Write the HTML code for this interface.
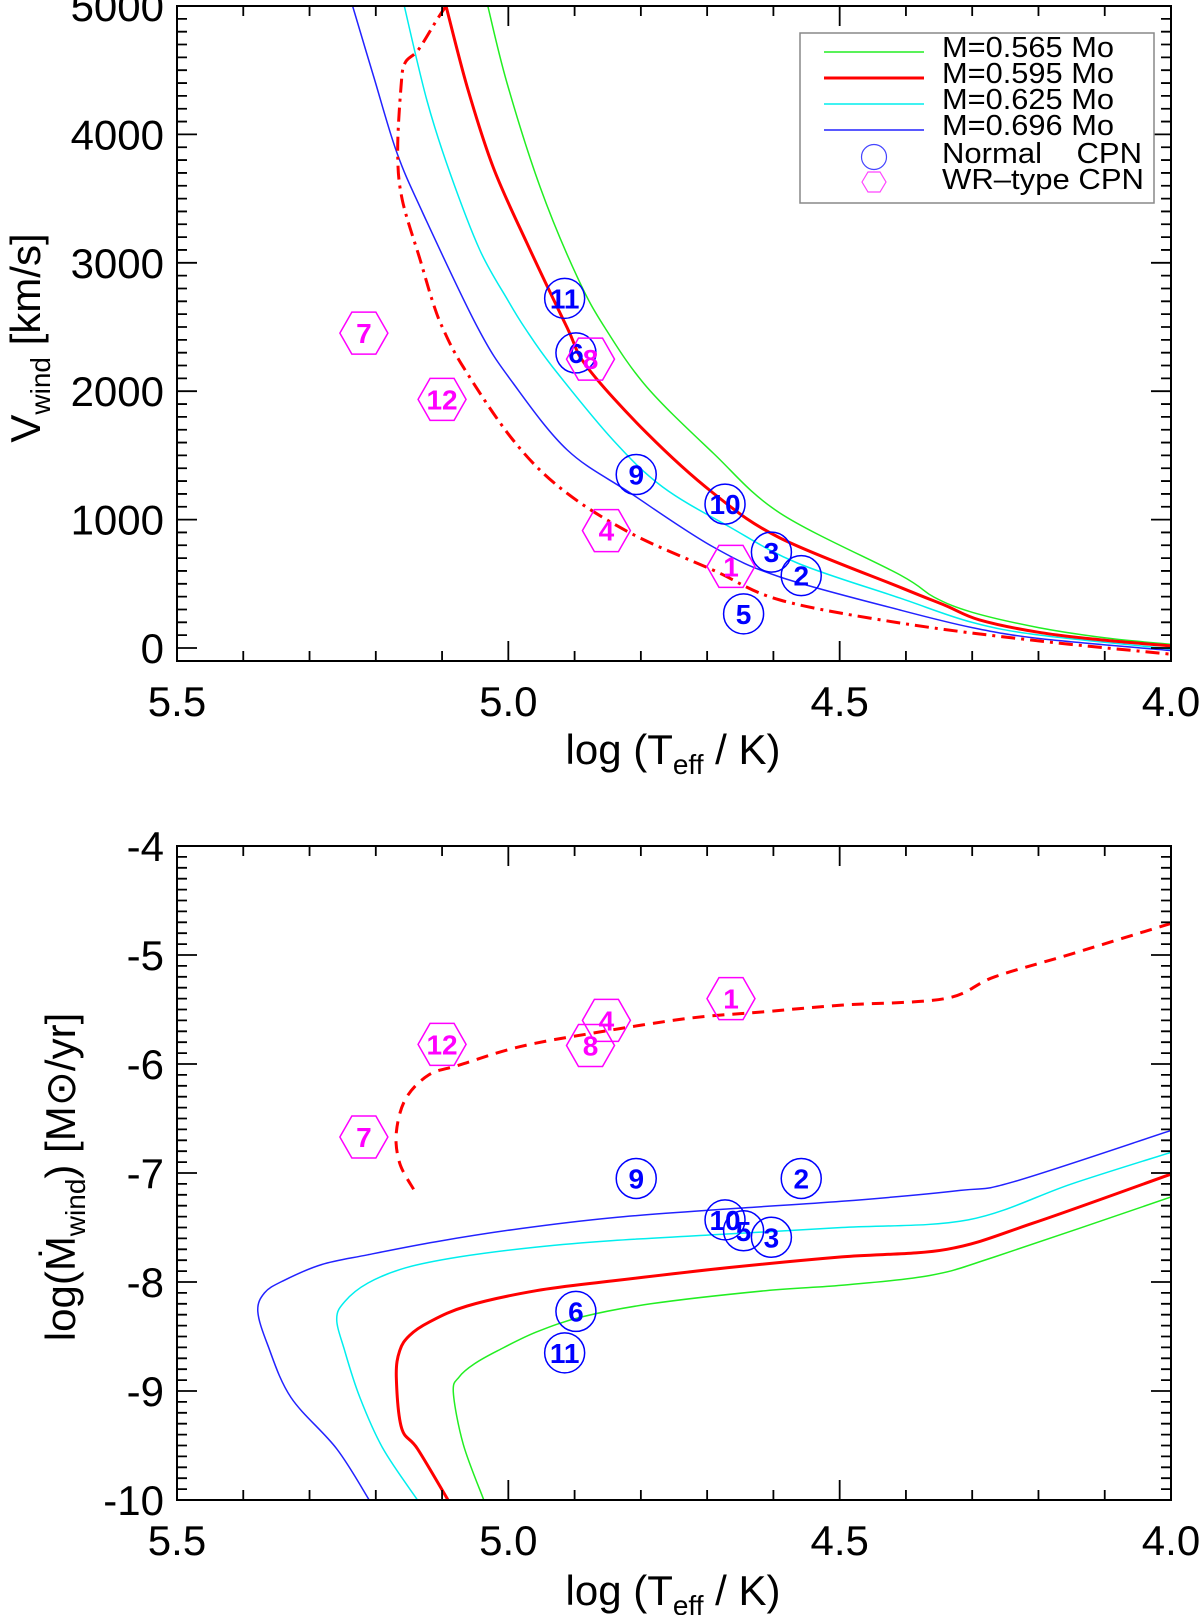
<!DOCTYPE html>
<html><head><meta charset="utf-8"><style>
html,body{margin:0;padding:0;background:#fff;}
svg{display:block;font-family:"Liberation Sans",Arial,sans-serif;}
</style></head><body>
<svg id="fig" width="1200" height="1615" viewBox="0 0 1200 1615" xmlns="http://www.w3.org/2000/svg">
<g id="topPanel"></g>
<g id="botPanel"></g>
<g id="legend">
  <rect x="800" y="33" width="354" height="170" fill="#fff" stroke="#888" stroke-width="1.5"/>
  <line x1="824" y1="52" x2="924" y2="52" stroke="#22ee22" stroke-width="1.5"/>
  <text x="942" y="57" font-size="29" textLength="172" lengthAdjust="spacingAndGlyphs">M=0.565 Mo</text>
  <line x1="824" y1="78" x2="924" y2="78" stroke="#ff0000" stroke-width="3"/>
  <text x="942" y="83" font-size="29" textLength="172" lengthAdjust="spacingAndGlyphs">M=0.595 Mo</text>
  <line x1="824" y1="104" x2="924" y2="104" stroke="#00eeee" stroke-width="1.5"/>
  <text x="942" y="109" font-size="29" textLength="172" lengthAdjust="spacingAndGlyphs">M=0.625 Mo</text>
  <line x1="824" y1="130" x2="924" y2="130" stroke="#2222ff" stroke-width="1.5"/>
  <text x="942" y="135" font-size="29" textLength="172" lengthAdjust="spacingAndGlyphs">M=0.696 Mo</text>
  <circle cx="874" cy="157" r="12.5" fill="none" stroke="#4444ff" stroke-width="1.2"/>
  <text x="942" y="163" font-size="29" textLength="200" lengthAdjust="spacingAndGlyphs">Normal&#160;&#160;&#160;&#160;CPN</text>
  <polygon points="862,182 868,172 880,172 886,182 880,192 868,192" fill="none" stroke="#ff44ff" stroke-width="1.2"/>
  <text x="942" y="189" font-size="29" textLength="202" lengthAdjust="spacingAndGlyphs">WR–type CPN</text>
</g>
</svg>
<script>
// ---- data (top panel: wind velocity) ----
const g565T = [5.031,5.002,4.952,4.896,4.854,4.791,4.691,4.590,4.409,4.358,4.300,4.200,4.099,4.0];
const g565V = [5000,4400,3590,2889,2492,2033,1519,1051,569,397,278,159,79,28];
const r595T = [5.094,5.062,5.023,4.972,4.911,4.881,4.791,4.691,4.590,4.405,4.340,4.289,4.196,4.099,4.0];
const r595V = [5000,4369,3746,3154,2492,2188,1674,1207,857,465,330,219,119,60,16];
const c625T = [5.157,5.123,5.088,5.043,5.001,4.975,4.933,4.842,4.767,4.666,4.564,4.409,4.300,4.196,4.0];
const c625V = [5000,4268,3699,3100,2710,2492,2188,1620,1254,942,662,389,199,99,-8];
const b696T = [5.235,5.203,5.168,5.129,5.046,4.993,4.911,4.816,4.691,4.590,4.409,4.300,4.196,4.0];
const b696V = [5000,4447,3855,3388,2492,2064,1542,1207,787,553,296,159,72,-20];
const wrT = [5.094,5.108,5.136,5.156,5.162,5.167,5.160,5.133,5.115,5.099,5.068,4.993,4.918,4.816,4.691,4.590,4.409,4.208,4.0];
const wrV = [5000,4891,4657,4556,4369,3855,3489,3022,2710,2492,2188,1620,1231,896,607,374,195,60,-48];
const normIds = ["11","6","9","10","3","2","5"];
const normT = [4.915,4.898,4.807,4.673,4.603,4.558,4.645];
const normV = [2723,2298,1351,1121,747,564,266];
const wrIds = ["7","12","8","4","1"];
const wrPtT = [5.218,5.100,4.876,4.852,4.664];
const wrPtV = [2452,1936,2250,914,636];
// ---- data (bottom panel: mass-loss rate) ----
const gM_T = [5.037,5.068,5.083,5.074,5.051,5.016,4.958,4.889,4.785,4.612,4.497,4.364,4.266,4.0];
const gM_M = [-10.0,-9.49,-9.01,-8.87,-8.75,-8.63,-8.46,-8.32,-8.20,-8.08,-8.03,-7.94,-7.77,-7.22];
const rM_T = [5.091,5.137,5.161,5.169,5.164,5.149,5.120,5.062,4.958,4.843,4.670,4.497,4.338,4.208,4.0];
const rM_M = [-10.0,-9.53,-9.34,-8.87,-8.63,-8.49,-8.37,-8.22,-8.08,-7.99,-7.87,-7.77,-7.70,-7.46,-7.01];
const cM_T = [5.137,5.189,5.224,5.247,5.259,5.247,5.212,5.155,5.074,4.958,4.843,4.670,4.497,4.306,4.150,4.0];
const cM_M = [-10.0,-9.53,-9.06,-8.63,-8.34,-8.18,-8.01,-7.87,-7.77,-7.68,-7.62,-7.56,-7.50,-7.43,-7.10,-6.81];
const bM_T = [5.210,5.259,5.328,5.363,5.378,5.368,5.340,5.282,5.212,5.109,4.982,4.843,4.670,4.497,4.318,4.237,4.0];
const bM_M = [-10.0,-9.53,-9.06,-8.58,-8.27,-8.10,-7.99,-7.84,-7.75,-7.63,-7.51,-7.41,-7.33,-7.26,-7.16,-7.08,-6.61];
const wrM_T = [5.143,5.164,5.169,5.155,5.120,5.074,4.982,4.866,4.727,4.612,4.497,4.341,4.266,4.150,4.0];
const wrM_M = [-7.15,-6.91,-6.63,-6.32,-6.10,-6.01,-5.84,-5.71,-5.58,-5.52,-5.46,-5.40,-5.20,-4.99,-4.71];
const normM = [-8.65,-8.27,-7.05,-7.43,-7.59,-7.05,-7.53];
const wrPtM = [-6.67,-5.82,-5.83,-5.60,-5.40];
const xTicks = ["5.5","5.0","4.5","4.0"];
const vTicks = ["0","1000","2000","3000","4000","5000"];
const mTicks = ["-10","-9","-8","-7","-6","-5","-4"];

const NS="http://www.w3.org/2000/svg";
function mk(tag,attrs,parent){const e=document.createElementNS(NS,tag);for(const k in attrs)e.setAttribute(k,attrs[k]);parent.appendChild(e);return e;}
const L=177,R=1171;
function X(t){return L+(5.5-t)*(R-L)/1.5;}
function YV(v){return 648-v*(642/5000);}
function YM(m){return 846+(-4-m)*109;}

function axes(g,yTop,yBot,yFn,yMin,yMax,yStep,yMinor,yLabels,yVals,name){
  const frame=mk('rect',{x:L,y:yTop,width:R-L,height:yBot-yTop,fill:'none',stroke:'#000','stroke-width':2},g);
  
  
  let d='';
  for(let i=0;i<=15;i++){const t=5.5-i*0.1;const x=X(t);const len=(i%5===0)?20:10;d+=`M${x},${yBot}v${-len}M${x},${yTop}v${len}`;}
  const n=Math.round((yMax-yMin)/yMinor);
  for(let k=0;k<=n;k++){const v=yMin+k*yMinor;const y=yFn(v);if(y<yTop-0.5||y>yBot+0.5)continue;const maj=Math.abs(Math.round(v/yStep)*yStep-v)<1e-6;const len=maj?20:10;d+=`M${L},${y}h${len}M${R},${y}h${-len}`;}
  const tk=mk('path',{d:d,stroke:'#000','stroke-width':1.8,fill:'none'},g);
  
  
  xTicks.forEach((s)=>{const t=mk('text',{x:X(parseFloat(s)),y:yBot+55,'font-size':42,'text-anchor':'middle'},g);t.textContent=s;
    
    });
  yLabels.forEach((s,i)=>{const t=mk('text',{x:164,y:yFn(yVals[i])+15,'font-size':42,'text-anchor':'end'},g);t.textContent=s;
    
    });
}
function line(g,ts,vs,yFn,color,w,dash,name){
  const P=ts.map((t,i)=>[X(t),yFn(vs[i])]);
  let d='M'+P[0][0].toFixed(1)+','+P[0][1].toFixed(1);
  for(let i=0;i<P.length-1;i++){
    const p0=P[Math.max(0,i-1)],p1=P[i],p2=P[i+1],p3=P[Math.min(P.length-1,i+2)];
    const c1=[p1[0]+(p2[0]-p0[0])/6,p1[1]+(p2[1]-p0[1])/6];
    const c2=[p2[0]-(p3[0]-p1[0])/6,p2[1]-(p3[1]-p1[1])/6];
    d+='C'+c1[0].toFixed(1)+','+c1[1].toFixed(1)+' '+c2[0].toFixed(1)+','+c2[1].toFixed(1)+' '+p2[0].toFixed(1)+','+p2[1].toFixed(1);
  }
  const p=mk('path',{d:d,stroke:color,'stroke-width':w,fill:'none','stroke-linejoin':'round'},g);
  if(dash)p.setAttribute('stroke-dasharray',dash);
  
  
}
function circ(g,t,v,id,yFn){
  const x=X(t),y=yFn(v);
  const c=mk('circle',{cx:x,cy:y,r:20,fill:'none',stroke:'#0000ff','stroke-width':1.5},g);
  
  
  const tx=mk('text',{x:x,y:y+10,'font-size':28,'font-weight':'bold',fill:'#0000ff','text-anchor':'middle'},g);tx.textContent=id;
  
  
}
function hex(g,t,v,id,yFn){
  const x=X(t),y=yFn(v);
  const pts=[[-24,0],[-12,-21],[12,-21],[24,0],[12,21],[-12,21]].map(p=>(x+p[0])+','+(y+p[1])).join(' ');
  const h=mk('polygon',{points:pts,fill:'none',stroke:'#ff00ff','stroke-width':1.5},g);
  
  
  const tx=mk('text',{x:x,y:y+10,'font-size':28,'font-weight':'bold',fill:'#ff00ff','text-anchor':'middle'},g);tx.textContent=id;
  
  
}
const topG=document.getElementById('topPanel'),botG=document.getElementById('botPanel');
const svgRoot=document.getElementById('fig');
const defs=mk('defs',{},svgRoot);
const cp1=mk('clipPath',{id:'c1'},defs);mk('rect',{x:L,y:6,width:R-L,height:655},cp1);
const cp2=mk('clipPath',{id:'c2'},defs);mk('rect',{x:L,y:846,width:R-L,height:654},cp2);
const tl=mk('g',{'clip-path':'url(#c1)'},topG);


line(tl,g565T,g565V,YV,'#22ee22',1.5,null,'vwind-line-0565');
line(tl,c625T,c625V,YV,'#00eeee',1.5,null,'vwind-line-0625');
line(tl,b696T,b696V,YV,'#2222ff',1.5,null,'vwind-line-0696');
line(tl,r595T,r595V,YV,'#ff0000',3,null,'vwind-line-0595');
line(tl,wrT,wrV,YV,'#ff0000',3,'14,6,3,6','vwind-wr-line');
axes(topG,6,661,YV,-100,5000,1000,100,vTicks,vTicks.map(Number),'top');
normIds.forEach((id,i)=>circ(topG,normT[i],normV[i],id,YV));
wrIds.forEach((id,i)=>hex(topG,wrPtT[i],wrPtV[i],id,YV));
const bl=mk('g',{'clip-path':'url(#c2)'},botG);


line(bl,gM_T,gM_M,YM,'#22ee22',1.5,null,'mdot-line-0565');
line(bl,cM_T,cM_M,YM,'#00eeee',1.5,null,'mdot-line-0625');
line(bl,bM_T,bM_M,YM,'#2222ff',1.5,null,'mdot-line-0696');
line(bl,rM_T,rM_M,YM,'#ff0000',3,null,'mdot-line-0595');
line(bl,wrM_T,wrM_M,YM,'#ff0000',3,'12,8','mdot-wr-line');
axes(botG,846,1500,YM,-10,-4,1,0.1,mTicks,mTicks.map(Number),'bottom');
normIds.forEach((id,i)=>circ(botG,normT[i],normM[i],id,YM));
wrIds.forEach((id,i)=>hex(botG,wrPtT[i],wrPtM[i],id,YM));
function xt(g,y,name){const t=mk('text',{x:673,y:y,'font-size':42,'text-anchor':'middle'},g);
  t.innerHTML='log (T<tspan font-size="28" dy="10">eff</tspan><tspan dy="-10"> / K)</tspan>';
  
  }
xt(topG,764,'top-x-axis-title');xt(botG,1605,'bottom-x-axis-title');
const yt1=mk('text',{x:0,y:0,'font-size':42,'text-anchor':'middle',transform:'translate(40,338) rotate(-90)'},topG);
yt1.innerHTML='V<tspan font-size="28" dy="10">wind</tspan><tspan dy="-10"> [km/s]</tspan>';


const yt2=mk('text',{x:0,y:0,'font-size':42,'text-anchor':'middle',transform:'translate(75,1177) rotate(-90)'},botG);
yt2.innerHTML='log(Ṁ<tspan font-size="28" dy="10">wind</tspan><tspan dy="-10">)  [M⊙/yr]</tspan>';


svgRoot.appendChild(document.getElementById('legend'));
</script>
</body></html>
